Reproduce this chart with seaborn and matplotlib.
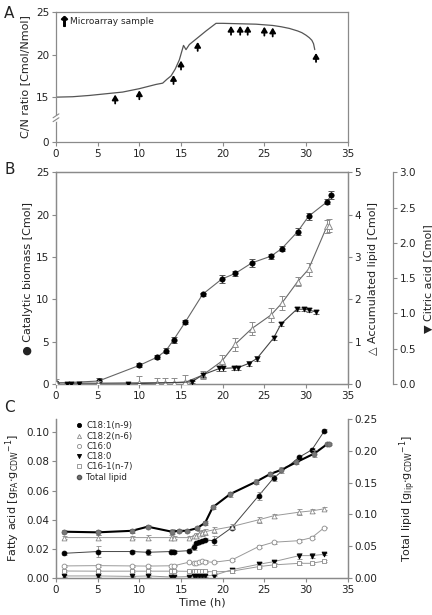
import numpy as np
import pandas as pd
import matplotlib
matplotlib.use("Agg")
import matplotlib.pyplot as plt
import seaborn as sns
from matplotlib.lines import Line2D

sns.set_theme(style="ticks")
plt.rcParams["font.family"] = ["DejaVu Sans"]

# ---------------- Panel A data ----------------
cn_time = [0, 2, 4, 6, 8, 10, 11, 12, 12.8, 13.3, 13.8, 14.3, 14.8, 15.3, 15.6,
           16.0, 17.0, 18.0, 19.2, 20, 22, 24, 26, 27, 28, 29, 29.5, 30, 30.4,
           30.7, 30.9, 31.05]
cn_ratio = [15.0, 15.05, 15.2, 15.4, 15.6, 16.0, 16.25, 16.5, 16.65, 17.1, 17.5,
            18.3, 19.4, 21.1, 20.6, 21.2, 22.0, 22.8, 23.7, 23.7, 23.65, 23.6,
            23.45, 23.3, 23.1, 22.8, 22.6, 22.3, 22.0, 21.7, 21.3, 20.6]
sample_time = [7.1, 10.0, 14.1, 15.0, 17.0, 21.0, 22.1, 23.0, 25.0, 26.0, 31.2]
sample_tip = [15.3, 15.8, 17.6, 19.3, 21.5, 23.4, 23.4, 23.4, 23.3, 23.2, 20.2]

# ---------------- Panel B data ----------------
biomass_t = [0, 5.1, 10.0, 12.1, 13.2, 14.1, 15.5, 17.6, 19.9, 21.5, 23.5, 25.8,
             27.1, 29.0, 30.3, 32.5, 33.0]
biomass = [0.1, 0.35, 2.2, 3.15, 3.95, 5.2, 7.3, 10.6, 12.4, 13.05, 14.3, 15.1,
           16.0, 18.0, 19.8, 21.5, 22.3]
biomass_err = [0.1, 0.3, 0.25, 0.25, 0.3, 0.3, 0.25, 0.2, 0.45, 0.3, 0.45, 0.3,
               0.35, 0.4, 0.4, 0.3, 0.45]

lipid_t = [0, 5.0, 10.0, 12.1, 13.1, 14.1, 15.5, 17.6, 19.9, 21.5, 23.5, 25.8,
           27.1, 29.0, 30.3, 32.5, 32.8]
lipid = [0.03, 0.02, 0.03, 0.03, 0.03, 0.03, 0.04, 0.21, 0.54, 0.94, 1.31, 1.63,
         1.91, 2.42, 2.71, 3.72, 3.74]
lipid_err = [0.08, 0.05, 0.15, 0.12, 0.1, 0.12, 0.18, 0.1, 0.15, 0.15, 0.15, 0.17,
             0.17, 0.1, 0.15, 0.15, 0.15]

citric_t = [1.3, 1.8, 2.8, 8.6, 16.3, 17.6, 19.6, 20.0, 21.4, 21.8, 23.1, 24.1,
            26.1, 27.0, 28.9, 29.7, 30.3, 31.2]
citric = [0.0, 0.0, 0.0, 0.0, 0.03, 0.13, 0.22, 0.22, 0.23, 0.23, 0.29, 0.36,
          0.65, 0.85, 1.06, 1.06, 1.05, 1.02]
citric_err = [0.01, 0.01, 0.01, 0.01, 0.01, 0.03, 0.03, 0.03, 0.03, 0.03, 0.03,
              0.03, 0.03, 0.03, 0.03, 0.03, 0.03, 0.03]

# ---------------- Panel C data ----------------
fa_t = [1.0, 5.0, 9.1, 11.0, 13.8, 14.2, 15.9, 16.5, 16.8, 17.1, 17.5, 17.9,
        18.9, 21.1, 24.3, 26.1, 29.2, 30.7, 32.2]
c181 = [0.0168, 0.018, 0.018, 0.0175, 0.018, 0.018, 0.0186, 0.0214, 0.0237,
        0.0248, 0.0255, 0.026, 0.0255, 0.0345, 0.0563, 0.0685, 0.083, 0.088, 0.101]
c181_err = [0.001, 0.0035, 0.001, 0.002, 0.002, 0.001, 0.001, 0.002, 0.001,
            0.001, 0.001, 0.001, 0.003, 0.001, 0.0025, 0.002, 0.001, 0.001, 0.001]
c182 = [0.0276, 0.0276, 0.0276, 0.0276, 0.0276, 0.0276, 0.0276, 0.0285, 0.029,
        0.0303, 0.031, 0.0317, 0.0329, 0.0352, 0.0398, 0.0426, 0.0451, 0.046, 0.0474]
c182_err = [0.001, 0.0015, 0.001, 0.002, 0.0015, 0.001, 0.001, 0.001, 0.0015,
            0.0015, 0.002, 0.002, 0.002, 0.0015, 0.002, 0.0015, 0.002, 0.0015, 0.001]
c160 = [0.0081, 0.0083, 0.0081, 0.0080, 0.0082, 0.0083, 0.0106, 0.0099, 0.0103,
        0.0108, 0.0113, 0.011, 0.0106, 0.0122, 0.0214, 0.0244, 0.0255, 0.0276, 0.0345]
c160_err = [0.0005, 0.0008, 0.0005, 0.001, 0.0008, 0.0005, 0.0005, 0.0008,
            0.0008, 0.001, 0.0012, 0.0012, 0.0008, 0.0005, 0.0008, 0.001, 0.001,
            0.0008, 0.0005]
c180 = [0.0012, 0.0012, 0.0009, 0.0012, 0.0005, 0.0005, 0.0008, 0.0015, 0.0015,
        0.0012, 0.0012, 0.0013, 0.0015, 0.0055, 0.0092, 0.011, 0.0152, 0.0152, 0.0161]
c180_err = [0.0005, 0.0008, 0.0005, 0.0008, 0.0005, 0.0005, 0.0005, 0.0005,
            0.0005, 0.0005, 0.0005, 0.0005, 0.0005, 0.001, 0.0015, 0.001, 0.002,
            0.0015, 0.0008]
c161 = [0.0046, 0.0045, 0.0045, 0.0045, 0.0045, 0.0045, 0.0044, 0.0044, 0.0044,
        0.0044, 0.0044, 0.0044, 0.0040, 0.0045, 0.0076, 0.0088, 0.0099, 0.0099, 0.0115]
c161_err = [0.0005, 0.001, 0.0005, 0.001, 0.0008, 0.0005, 0.0005, 0.0005,
            0.0005, 0.0005, 0.0005, 0.0005, 0.0005, 0.0012, 0.0008, 0.0008, 0.0012,
            0.0008, 0.0005]
total_t = [1.0, 5.0, 9.1, 11.0, 13.9, 14.7, 15.7, 16.9, 17.9, 18.8, 20.9, 24.0,
           25.7, 27.0, 28.8, 31.0, 32.5, 32.8]
total_lipid = [0.0726, 0.0716, 0.074, 0.0805, 0.0726, 0.074, 0.074, 0.078, 0.0868,
               0.111, 0.132, 0.1515, 0.1637, 0.170, 0.182, 0.196, 0.2105, 0.211]
total_err = [0.002, 0.004, 0.003, 0.002, 0.004, 0.002, 0.002, 0.002, 0.003,
             0.003, 0.004, 0.004, 0.003, 0.004, 0.003, 0.005, 0.002, 0.002]

x_ticks = [0, 5, 10, 15, 20, 25, 30, 35]

# ---------------- styling ----------------
SPINE = "#8a8a8a"
TXT = "#222222"
GRAY = "#8c8c8c"
TICK_FS = 7.5
LAB_FS = 8

W, H = 432, 615
fig = plt.figure(figsize=(W / 100, H / 100), dpi=100)


def rect(left, top, right, bottom):
    return [left / W, 1 - bottom / H, (right - left) / W, (bottom - top) / H]


def style_ax(ax):
    for s in ax.spines.values():
        s.set_color(SPINE)
        s.set_linewidth(0.9)
    ax.tick_params(axis="both", colors=SPINE, labelcolor=TXT, labelsize=TICK_FS,
                   length=3, width=0.8, direction="out", pad=2)


# ================= Panel A =================
ax_a = fig.add_axes(rect(56, 12.3, 347.7, 141.7))
style_ax(ax_a)
sns.lineplot(x=cn_time, y=cn_ratio, ax=ax_a, color="#555555", lw=0.9,
             estimator=None, sort=False)
for xt, yt in zip(sample_time, sample_tip):
    ax_a.annotate("", xy=(xt, yt), xytext=(xt, yt - 1.05),
                  arrowprops=dict(arrowstyle="-|>,head_length=0.5,head_width=0.3",
                                  mutation_scale=6, color="black", lw=1.3,
                                  shrinkA=0, shrinkB=0))
ax_a.set_xlim(0, 35)
ax_a.set_ylim(9.75, 25)
ax_a.set_xticks(x_ticks)
ax_a.set_yticks([9.75, 15, 20, 25])
ax_a.set_yticklabels(["0", "15", "20", "25"])
ax_a.set_ylabel("C/N ratio [Cmol/Nmol]", fontsize=LAB_FS, color=TXT, labelpad=4)
# axis break marks
ax_a.plot([0, 0], [0.165, 0.2], transform=ax_a.transAxes, color="white", lw=2,
          clip_on=False, zorder=5)
for dy in (0.0, 0.03):
    ax_a.plot([-0.01, 0.01], [0.155 + dy, 0.185 + dy], transform=ax_a.transAxes,
              color=SPINE, lw=0.8, clip_on=False, zorder=6)
arrow_handle = Line2D([], [], marker=r"$\mathbf{\uparrow}$", color="black",
                      linestyle="none", markersize=7)
ax_a.legend([arrow_handle], ["Microarray sample"], loc="upper left", frameon=False,
            fontsize=6.5, handlelength=0.8, handletextpad=0.3,
            borderaxespad=0.2, borderpad=0.3)
fig.text(4 / W, 1 - 14 / H, "A", fontsize=11, color=TXT, va="center")

# ================= Panel B =================
ax_b = fig.add_axes(rect(56, 172.3, 347.7, 384))
style_ax(ax_b)
ax_b2 = ax_b.twinx()
ax_b3 = ax_b.twinx()
style_ax(ax_b2)
style_ax(ax_b3)
ax_b3.spines["right"].set_position(("axes", 1.154))
for s in ("top", "bottom", "left"):
    ax_b3.spines[s].set_visible(False)

# biomass
sns.lineplot(x=biomass_t, y=biomass, ax=ax_b, color="#666666", lw=0.8,
             estimator=None, sort=False, zorder=2)
ax_b.errorbar(biomass_t, biomass, yerr=biomass_err, fmt="none", ecolor="#555555",
              elinewidth=0.7, capsize=2.2, capthick=0.7, zorder=3)
sns.scatterplot(x=biomass_t, y=biomass, ax=ax_b, marker="o", s=16, color="black",
                edgecolor="black", linewidth=0.3, zorder=4)
# lipid
sns.lineplot(x=lipid_t, y=lipid, ax=ax_b2, color="#666666", lw=0.8,
             estimator=None, sort=False, zorder=2)
ax_b2.errorbar(lipid_t, lipid, yerr=lipid_err, fmt="none", ecolor=GRAY,
               elinewidth=0.7, capsize=2.5, capthick=0.7, zorder=3)
sns.scatterplot(x=lipid_t, y=lipid, ax=ax_b2, marker="^", s=18, facecolor="white",
                edgecolor=GRAY, linewidth=0.7, zorder=4)
# citric acid
sns.lineplot(x=citric_t, y=citric, ax=ax_b3, color="#444444", lw=0.8,
             estimator=None, sort=False, zorder=2)
ax_b3.errorbar(citric_t, citric, yerr=citric_err, fmt="none", ecolor="#555555",
               elinewidth=0.6, capsize=2, capthick=0.6, zorder=3)
sns.scatterplot(x=citric_t, y=citric, ax=ax_b3, marker="v", s=14, color="black",
                edgecolor="black", linewidth=0.3, zorder=4)

ax_b.set_xlim(0, 35)
ax_b.set_ylim(0, 25)
ax_b.set_xticks(x_ticks)
ax_b.set_yticks([0, 5, 10, 15, 20, 25])
ax_b2.set_ylim(0, 5)
ax_b2.set_yticks([0, 1, 2, 3, 4, 5])
ax_b3.set_ylim(0, 3.0)
ax_b3.set_yticks([0.0, 0.5, 1.0, 1.5, 2.0, 2.5, 3.0])
ax_b3.set_yticklabels(["0.0", "0.5", "1.0", "1.5", "2.0", "2.5", "3.0"])
ax_b.set_ylabel("\u25CF Catalytic biomass [Cmol]", fontsize=LAB_FS, color=TXT,
                labelpad=2)
ax_b2.set_ylabel("\u25B3 Accumulated lipid [Cmol]", fontsize=LAB_FS, color=TXT,
                 labelpad=5)
ax_b3.set_ylabel("\u25BC Citric acid [Cmol]", fontsize=LAB_FS, color=TXT,
                 labelpad=5)
fig.text(4 / W, 1 - 170 / H, "B", fontsize=11, color=TXT, va="center")

# ================= Panel C =================
ax_c = fig.add_axes(rect(56, 419.3, 347.7, 577.7))
style_ax(ax_c)
ax_c.spines["top"].set_visible(False)
ax_c2 = ax_c.twinx()
style_ax(ax_c2)
ax_c2.spines["top"].set_visible(False)

series = [
    ("C18:1(n-9)", c181, c181_err, "o", "black", "black", "#444444"),
    ("C18:2(n-6)", c182, c182_err, "^", "white", GRAY, "#999999"),
    ("C16:0", c160, c160_err, "o", "white", GRAY, "#999999"),
    ("C18:0", c180, c180_err, "v", "black", "black", "#999999"),
    ("C16-1(n-7)", c161, c161_err, "s", "white", GRAY, "#999999"),
]
handles = []
for name, vals, errs, mk, fc, ec, lc in series:
    sns.lineplot(x=fa_t, y=vals, ax=ax_c, color=lc, lw=0.7, estimator=None,
                 sort=False, zorder=2)
    ax_c.errorbar(fa_t, vals, yerr=errs, fmt="none", ecolor=GRAY, elinewidth=0.6,
                  capsize=1.8, capthick=0.6, zorder=3)
    sns.scatterplot(x=fa_t, y=vals, ax=ax_c, marker=mk, s=12, facecolor=fc,
                    edgecolor=ec, linewidth=0.6, zorder=4)
    handles.append(Line2D([], [], marker=mk, markersize=3, markerfacecolor=fc,
                          markeredgecolor=ec, markeredgewidth=0.6,
                          linestyle="none"))

sns.lineplot(x=total_t, y=total_lipid, ax=ax_c2, color="black", lw=1.5,
             estimator=None, sort=False, zorder=2)
ax_c2.errorbar(total_t, total_lipid, yerr=total_err, fmt="none", ecolor=GRAY,
               elinewidth=0.6, capsize=1.8, capthick=0.6, zorder=3)
sns.scatterplot(x=total_t, y=total_lipid, ax=ax_c2, marker="o", s=14,
                color="#777777", edgecolor="#555555", linewidth=0.4, zorder=4)
handles.append(Line2D([], [], marker="o", markersize=3, markerfacecolor="#777777",
                      markeredgecolor="#555555", linestyle="none"))
labels = [s[0] for s in series] + ["Total lipid"]

ax_c.set_xlim(0, 35)
ax_c.set_ylim(0, 0.109)
ax_c.set_xticks(x_ticks)
ax_c.set_yticks([0.0, 0.02, 0.04, 0.06, 0.08, 0.10])
ax_c.set_yticklabels(["0.00", "0.02", "0.04", "0.06", "0.08", "0.10"])
ax_c2.set_ylim(0, 0.25)
ax_c2.set_yticks([0.0, 0.05, 0.10, 0.15, 0.20, 0.25])
ax_c2.set_yticklabels(["0.00", "0.05", "0.10", "0.15", "0.20", "0.25"])
ax_c.set_xlabel("Time (h)", fontsize=LAB_FS, color=TXT, labelpad=2)
ax_c.set_ylabel(r"Fatty acid [g$_{\mathrm{FA}}$$\cdot$g$_{\mathrm{CDW}}$$^{\mathrm{-1}}$]",
                fontsize=LAB_FS, color=TXT, labelpad=3)
ax_c2.set_ylabel(r"Total lipid [g$_{\mathrm{lip}}$$\cdot$g$_{\mathrm{CDW}}$$^{\mathrm{-1}}$]",
                 fontsize=LAB_FS, color=TXT, labelpad=14)
ax_c2.legend(handles, labels, loc="upper left", frameon=False, fontsize=6.2,
             handlelength=0.8, handletextpad=0.4, labelspacing=0.15,
             borderaxespad=0.2, bbox_to_anchor=(0.05, 1.02))
fig.text(4 / W, 1 - 407 / H, "C", fontsize=11, color=TXT, va="center")

fig.savefig("out.png", dpi=100)
